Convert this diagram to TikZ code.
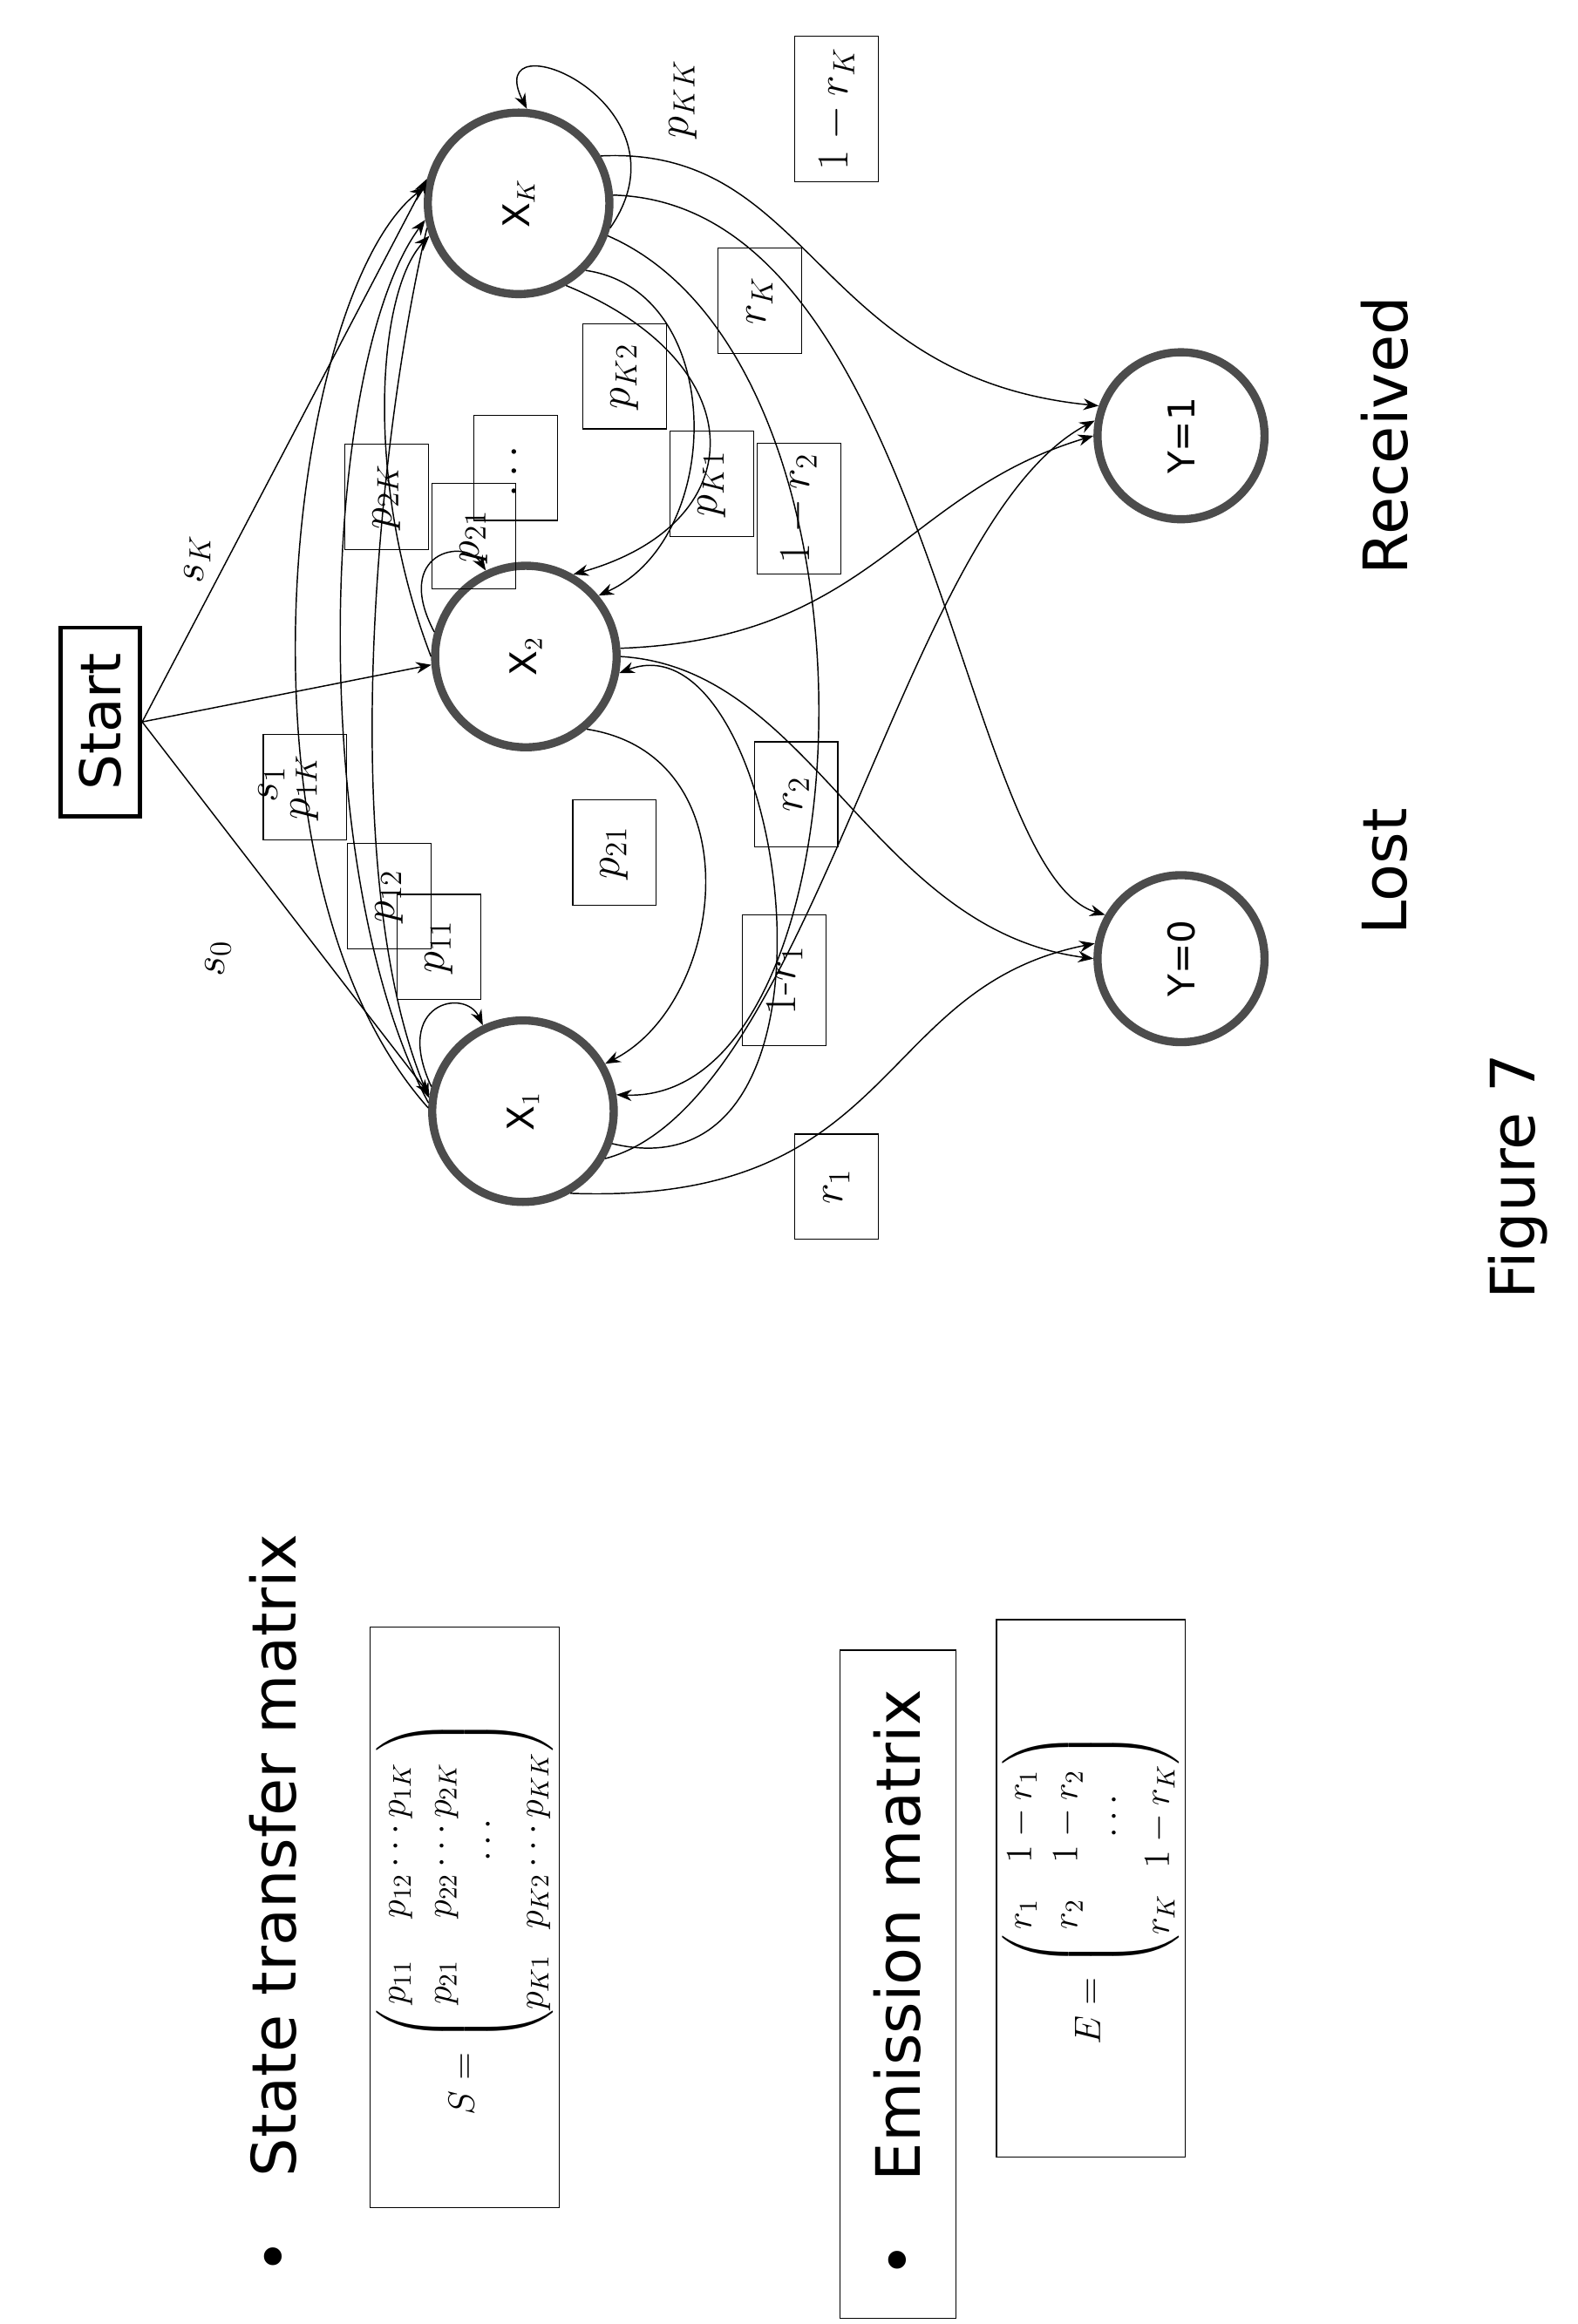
\documentclass[tikz,border=0pt]{standalone}
\usepackage{amsmath}
\usepackage{fontspec}
\setsansfont{DejaVu Sans}
\usetikzlibrary{arrows.meta}
\tikzset{
  state/.style={circle, draw=black!70, line width=3.2pt, minimum size=2.5cm, font=\sffamily\Large},
  lbl/.style={draw, rotate=90, minimum width=1.45cm, minimum height=1.15cm, font=\LARGE},
  word/.style={rotate=90, font=\sffamily\fontsize{24}{28}\selectfont},
  edge/.style={-{Stealth[length=6pt]}, line width=0.5pt},
}
\newcommand{\up}[1]{\rotatebox{90}{#1}}
\begin{document}
\begin{tikzpicture}[x=0.02cm, y=0.02cm]
  \useasboundingbox (0,0) rectangle (1086,-1600);

  % states
  \node[draw, line width=1.6pt, rotate=90, minimum width=2.6cm, minimum height=1.1cm, font=\sffamily\fontsize{22}{26}\selectfont] (start) at (69,-497) {Start};
  \node[state] (x1) at (360,-765) {\up{X$_1$}};
  \node[state] (x2) at (362,-452) {\up{X$_2$}};
  \node[state] (xk) at (357,-140) {\up{X$_K$}};
  \node[state, minimum size=2.3cm] (y0) at (813,-660) {\up{Y=0}};
  \node[state, minimum size=2.3cm] (y1) at (813,-300) {\up{Y=1}};
  \node[word] (lost) at (953,-600) {Lost};
  \node[word] (recv) at (953,-300) {Received};
  \node[word] (fig) at (1045,-810) {Figure 7};

  % start edges
  \draw[edge] (start.south) -- (x1.170);
  \draw[edge] (start.south) -- (x2.185);
  \draw[edge] (start.south) -- (xk.165);
  \node[rotate=90, font=\LARGE] (s0) at (150,-660) {$s_0$};
  \node[rotate=90, font=\LARGE] (s1) at (187,-540) {$s_1$};
  \node[rotate=90, font=\LARGE] (sk) at (136,-385) {$s_K$};

  % self loops
  \draw[edge] (x1.165) .. controls (270,-690) and (320,-680) .. (x1.115);
  \draw[edge] (x2.165) .. controls (270,-380) and (320,-370) .. (x2.115);
  \draw[edge] (xk.-15) .. controls (480,-70) and (330,-10) .. (xk.85);

  % transitions
  \draw[edge] (x2.-50) .. controls (520,-520) and (500,-690) .. (x1.30);
  \draw[edge] (xk.-45) .. controls (500,-200) and (500,-370) .. (x2.40);
  \draw[edge] (xk.-20) .. controls (620,-250) and (600,-760) .. (x1.10);
  \draw[edge] (x1.175) .. controls (210,-600) and (220,-250) .. (xk.190);
  \draw[edge] (x1.178) .. controls (150,-600) and (200,-200) .. (xk.170);
  \draw[edge] (x2.180) .. controls (250,-330) and (260,-200) .. (xk.200);
  \draw[edge] (xk.195) .. controls (260,-300) and (230,-600) .. (x1.172);
  \draw[edge] (xk.-60) .. controls (520,-250) and (520,-360) .. (x2.60);
  \draw[edge] (x1.-20) .. controls (600,-830) and (540,-420) .. (x2.-10);

  % emissions
  \draw[edge] (x1.-60) .. controls (620,-830) and (600,-680) .. (y0.170);
  \draw[edge] (x1.-30) .. controls (560,-760) and (620,-360) .. (y1.170);
  \draw[edge] (x2.0) .. controls (560,-460) and (600,-640) .. (y0.180);
  \draw[edge] (x2.5) .. controls (600,-440) and (620,-340) .. (y1.180);
  \draw[edge] (xk.30) .. controls (560,-100) and (560,-260) .. (y1.160);
  \draw[edge] (xk.5) .. controls (640,-140) and (660,-600) .. (y0.150);

  % labels
  \node[lbl] (l1k) at (210,-542) {$p_{1K}$};
  \node[lbl] (l12) at (268,-617) {$p_{12}$};
  \node[lbl] (l11) at (302,-652) {$p_{11}$};
  \node[lbl] (l21a) at (423,-587) {$p_{21}$};
  \node[lbl] (l2k) at (266,-342) {$p_{2K}$};
  \node[lbl] (l21b) at (326,-369) {$p_{21}$};
  \node[lbl] (ldots) at (355,-322) {$\cdots$};
  \node[lbl] (lk2) at (430,-259) {$p_{K2}$};
  \node[lbl] (lk1) at (490,-333) {$p_{K1}$};
  \node[lbl, minimum width=1.8cm] (l1r2) at (550,-350) {$1-r_2$};
  \node[lbl] (lrk) at (523,-207) {$r_K$};
  \node[lbl, minimum width=2cm] (l1rk) at (576,-75) {$1-r_K$};
  \node[rotate=90, font=\LARGE] (lkk) at (470,-68) {$p_{KK}$};
  \node[lbl] (lr1) at (576,-817) {$r_1$};
  \node[lbl, minimum width=1.8cm] (l1r1) at (540,-675) {1-$r_1$};
  \node[lbl] (lr2) at (548,-547) {$r_2$};

  % matrices
  \node[rotate=90, font=\sffamily\fontsize{24}{28}\selectfont, anchor=west] (bs) at (188,-1572) {\textbullet\quad State transfer matrix};
  \node[draw, rotate=90, minimum width=8cm, minimum height=2.4cm, inner sep=1pt, font=\Large] (smat) at (320,-1320)
    {$S=\begin{pmatrix} p_{11} & p_{12} \cdots p_{1K}\\ p_{21} & p_{22} \cdots p_{2K}\\ & \cdots \\ p_{K1} & p_{K2} \cdots p_{KK}\end{pmatrix}$};
  \node[draw, rotate=90, minimum width=9.2cm, minimum height=1.6cm, font=\sffamily\fontsize{24}{28}\selectfont] (be) at (618,-1366) {\textbullet\quad Emission matrix\hspace{1.2cm}};
  \node[draw, rotate=90, minimum width=7.4cm, minimum height=2cm, inner sep=1pt, font=\Large] (emat) at (751,-1300)
    {$E=\begin{pmatrix} r_1 & 1-r_1\\ r_2 & 1-r_2\\ & \cdots \\ r_K & 1-r_K\end{pmatrix}$};
\end{tikzpicture}
\end{document}
